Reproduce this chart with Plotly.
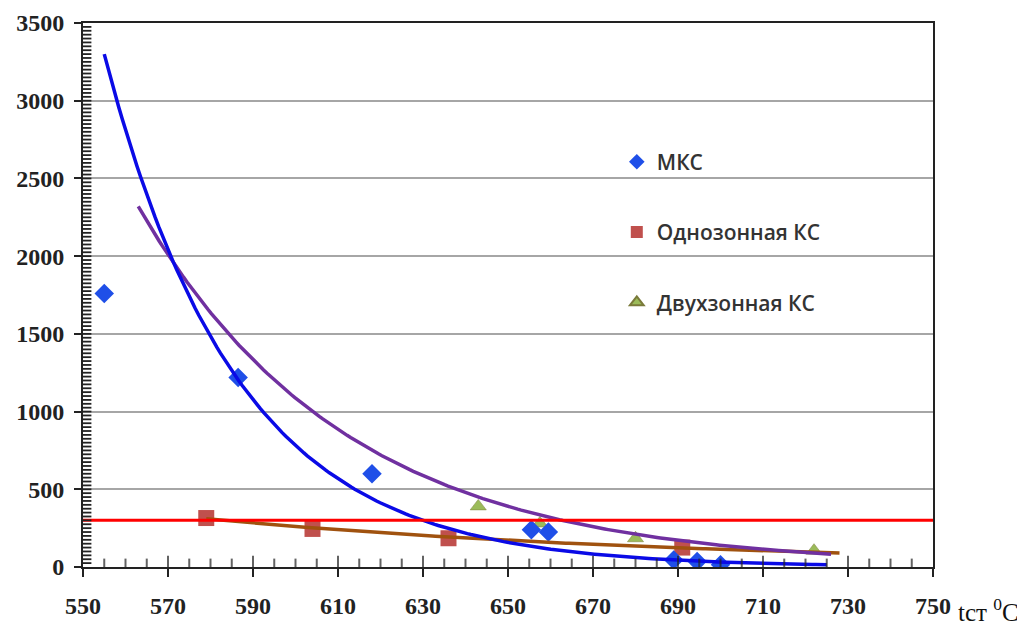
import numpy as np
import plotly.graph_objects as go

# ---- data ----
mks_t = [555, 586.5, 618, 655.5, 659.5, 689, 694.5, 700]
mks_v = [1760, 1220, 600, 240, 225, 45, 35, 15]

one_t = [579, 604, 636, 691]
one_v = [315, 245, 185, 125]

two_t = [643, 657.5, 680, 722]
two_v = [390, 280, 185, 105]

# exponential trendlines: (t_start, value_at_start, decay, t_end)
mks_trend = (555, 3300, 0.032, 725)
two_trend = (563, 2320, 0.0205, 726)
one_trend = (579, 310, 0.0083, 728)

limit_value = 300
x_range = [550, 750]
y_range = [0, 3500]
x_major, x_minor = 20, 5
y_major, y_minor = 500, 25

# figure geometry (the page adds an 8px body margin, so the figure is shrunk to fit)
W, H = 1017, 614
ML, MR, MT, MB = 75, 92, 15, 55


def trend(params):
    t0, a, b, t1 = params
    t = np.linspace(t0, t1, 200)
    return t, a * np.exp(-b * (t - t0))


fig = go.Figure()

# markers
fig.add_trace(go.Scatter(x=two_t, y=two_v, mode="markers", name="Двухзонная КС",
                         marker=dict(symbol="triangle-up", size=14, color="#9bbb59",
                                     line=dict(color="#7a7a3a", width=0.5)),
                         legendgroup="c", legendrank=3))
fig.add_trace(go.Scatter(x=one_t, y=one_v, mode="markers", name="Однозонная КС",
                         marker=dict(symbol="square", size=16, color="#c0504d"),
                         legendgroup="b", legendrank=2))
fig.add_trace(go.Scatter(x=mks_t, y=mks_v, mode="markers", name="МКС",
                         marker=dict(symbol="diamond", size=15, color="#1f4fe8"),
                         legendgroup="a", legendrank=1))

# trendlines
tx, ty = trend(one_trend)
fig.add_trace(go.Scatter(x=tx, y=ty, mode="lines", line=dict(color="#a0520f", width=3.5),
                         showlegend=False, hoverinfo="skip"))
tx, ty = trend(two_trend)
fig.add_trace(go.Scatter(x=tx, y=ty, mode="lines", line=dict(color="#7030a0", width=3.5),
                         showlegend=False, hoverinfo="skip"))
tx, ty = trend(mks_trend)
fig.add_trace(go.Scatter(x=tx, y=ty, mode="lines", line=dict(color="#0a0ae6", width=3.5),
                         showlegend=False, hoverinfo="skip"))

# limit line
fig.add_trace(go.Scatter(x=x_range, y=[limit_value, limit_value], mode="lines",
                         line=dict(color="#ff0000", width=3), showlegend=False, hoverinfo="skip"))

# inner tick marks drawn as line-shaped markers centred on the axis lines;
# the plot-area clip keeps only the half that lies inside
xt = [float(v) for v in np.arange(x_range[0] + x_minor, x_range[1], x_minor)]
xt_size = [16 if (v - x_range[0]) % x_major == 0 else 12 for v in xt]
fig.add_trace(go.Scatter(x=xt, y=[y_range[0]] * len(xt), mode="markers", cliponaxis=True,
                         marker=dict(symbol="line-ns", size=xt_size,
                                     line=dict(color="#222222", width=2)),
                         showlegend=False, hoverinfo="skip"))
yt = [float(v) for v in np.arange(y_range[0] + y_minor, y_range[1], y_minor)]
fig.add_trace(go.Scatter(x=[x_range[0]] * len(yt), y=yt, mode="markers", cliponaxis=True,
                         marker=dict(symbol="line-ew", size=12,
                                     line=dict(color="#222222", width=1.8)),
                         showlegend=False, hoverinfo="skip"))

tickfont = dict(family="Liberation Serif", size=24, color="#222222", weight="bold")

fig.update_layout(
    width=W, height=H,
    margin=dict(l=ML, r=MR, t=MT, b=MB),
    paper_bgcolor="white", plot_bgcolor="white",
    showlegend=True,
    legend=dict(x=0.628, y=0.782, xanchor="left", yanchor="top",
                font=dict(family="Open Sans", size=21, color="#333333", weight=600),
                tracegroupgap=40, bgcolor="rgba(0,0,0,0)", itemsizing="constant"),
    xaxis=dict(range=x_range, tickmode="linear", tick0=x_range[0], dtick=x_major,
               tickfont=tickfont, showgrid=False, zeroline=False, automargin=False,
               showline=True, linecolor="#222222", linewidth=2, mirror=True,
               ticks="outside", ticklen=8, tickwidth=2, tickcolor="#222222",
               ticklabelstandoff=8),
    yaxis=dict(range=y_range, tickmode="linear", tick0=y_range[0], dtick=y_major,
               tickfont=tickfont, showgrid=True, gridcolor="#a6a6a6", gridwidth=2,
               zeroline=False, showline=True, linecolor="#222222", linewidth=2, mirror=True,
               automargin=False, ticklabelstandoff=5,
               ticks="outside", ticklen=7, tickwidth=2, tickcolor="#222222"),
    annotations=[dict(text="tст <sup>0</sup>C", xref="paper", yref="paper",
                      x=1.027, y=-0.079, xanchor="left", yanchor="middle", showarrow=False,
                      font=dict(family="Liberation Serif", size=25, color="#111111"))],
)

fig.write_html("out.html")
